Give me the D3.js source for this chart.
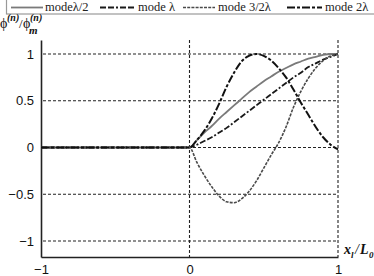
<!DOCTYPE html>
<html>
<head>
<meta charset="utf-8">
<script src="https://cdn.jsdelivr.net/npm/d3@7"></script>
<style>
  body { margin: 0; background: #fff; }
  svg { display: block; }
</style>
</head>
<body>
<svg id="chart" width="374" height="276"></svg>
<script>
const xs = [-1, 0, 0.05, 0.1, 0.15, 0.2, 0.25, 0.3, 0.35, 0.4, 0.45, 0.5, 0.55, 0.6, 0.65, 0.7, 0.75, 0.8, 0.85, 0.9, 0.95, 1];
const modeHalf = [0, 0, 0.08, 0.16, 0.23, 0.31, 0.38, 0.45, 0.52, 0.59, 0.65, 0.71, 0.76, 0.81, 0.85, 0.89, 0.92, 0.95, 0.97, 0.99, 1.0, 1.0];
const modeOne = [0, 0, 0.03, 0.07, 0.11, 0.16, 0.21, 0.27, 0.33, 0.39, 0.45, 0.51, 0.57, 0.63, 0.69, 0.75, 0.8, 0.86, 0.9, 0.94, 0.97, 1.0];
const modeThreeHalf = [0, 0, -0.16, -0.3, -0.42, -0.52, -0.58, -0.59, -0.55, -0.47, -0.36, -0.22, -0.08, 0.05, 0.22, 0.43, 0.6, 0.74, 0.85, 0.93, 0.98, 1.0];
const modeTwo = [0, 0, 0.08, 0.18, 0.31, 0.47, 0.65, 0.8, 0.92, 0.98, 1.0, 0.98, 0.93, 0.85, 0.75, 0.62, 0.48, 0.35, 0.22, 0.11, 0.03, -0.02];
const legendLabels = ["modeλ/2", "mode λ", "mode 3/2λ", "mode 2λ"];
const yTicks = [1, 0.5, 0, -0.5, -1];
const xTicks = [-1, 0, 1];
const xGrid = [0, 1];

const svg = d3.select("#chart");

const x = d3.scaleLinear().domain([-1, 1]).range([41, 338]);
const y = d3.scaleLinear().domain([-1.171, 1.15]).range([257, 40]);

// styles per series
const series = [
  { label: legendLabels[0], values: modeHalf, color: "#7a7a7a", width: 1.8, dash: null },
  { label: legendLabels[1], values: modeOne, color: "#1a1a1a", width: 1.8, dash: "6,2,6,2,2,2" },
  { label: legendLabels[2], values: modeThreeHalf, color: "#4a4a4a", width: 1.6, dash: "3,1.2" },
  { label: legendLabels[3], values: modeTwo, color: "#111", width: 2, dash: "8,2,3,2" }
];

// grid
svg.append("g").selectAll("line")
  .data(yTicks)
  .join("line")
  .attr("x1", x(-1) + 2).attr("x2", x(1))
  .attr("y1", d => y(d)).attr("y2", d => y(d))
  .attr("stroke", "#222").attr("stroke-width", 1.1)
  .attr("stroke-dasharray", "3,2");

svg.append("g").selectAll("line")
  .data(xGrid)
  .join("line")
  .attr("x1", d => x(d)).attr("x2", d => x(d))
  .attr("y1", y.range()[1]).attr("y2", y.range()[0])
  .attr("stroke", "#222").attr("stroke-width", 1.1)
  .attr("stroke-dasharray", "3,2");

// axes
const yAxis = svg.append("g")
  .attr("transform", `translate(${x(-1)},0)`)
  .call(d3.axisLeft(y).tickValues(yTicks).tickSize(0).tickPadding(7).tickFormat(d3.format("")));
const xAxis = svg.append("g")
  .attr("transform", `translate(0,${y.range()[0]})`)
  .call(d3.axisBottom(x).tickValues(xTicks).tickSize(0).tickPadding(8).tickFormat(d3.format("")));

[yAxis, xAxis].forEach(g => {
  g.select(".domain").attr("stroke", "#222").attr("stroke-width", 1.6);
  g.selectAll("text")
    .attr("font-family", "Liberation Sans, Arial, sans-serif")
    .attr("font-size", 13)
    .attr("fill", "#111");
});

// curves
const line = d3.line()
  .x((d, i) => x(xs[i]))
  .y(d => y(d))
  .curve(d3.curveMonotoneX);

svg.append("g").selectAll("path")
  .data(series)
  .join("path")
  .attr("d", d => line(d.values))
  .attr("fill", "none")
  .attr("stroke", d => d.color)
  .attr("stroke-width", d => d.width)
  .attr("stroke-dasharray", d => d.dash);

// legend
const legend = svg.append("g");
legend.append("rect")
  .attr("x", 6.5).attr("y", -10)
  .attr("width", 380).attr("height", 24)
  .attr("fill", "none").attr("stroke", "#999").attr("stroke-width", 1.2);

const legendPos = [
  { x1: 11, x2: 43, tx: 45 },
  { x1: 100, x2: 135, tx: 138 },
  { x1: 183, x2: 215, tx: 218 },
  { x1: 287, x2: 322, tx: 325 }
];
series.forEach((s, i) => {
  const p = legendPos[i];
  legend.append("line")
    .attr("x1", p.x1).attr("x2", p.x2)
    .attr("y1", 7.5).attr("y2", 7.5)
    .attr("stroke", s.color).attr("stroke-width", s.width)
    .attr("stroke-dasharray", s.dash);
  legend.append("text")
    .attr("x", p.tx).attr("y", 11)
    .attr("font-family", "Liberation Serif, Times New Roman, serif")
    .attr("font-size", 12.5)
    .attr("fill", "#222")
    .text(s.label);
});

// y label: phi^(n) / phi_m^(n)
const yl = svg.append("g")
  .attr("font-family", "Liberation Serif, Times New Roman, serif")
  .attr("fill", "#111");
yl.append("text").attr("x", 0).attr("y", 28).attr("font-size", 14).text("ϕ");
yl.append("text").attr("x", 7).attr("y", 21).attr("font-size", 10).attr("font-style", "italic").attr("font-weight", "bold").text("(n)");
yl.append("text").attr("x", 19).attr("y", 28).attr("font-size", 13).text("/");
yl.append("text").attr("x", 23).attr("y", 28).attr("font-size", 14).text("ϕ");
yl.append("text").attr("x", 30).attr("y", 21).attr("font-size", 10).attr("font-style", "italic").attr("font-weight", "bold").text("(n)");
yl.append("text").attr("x", 29).attr("y", 34).attr("font-size", 11).attr("font-style", "italic").attr("font-weight", "bold").text("m");

// x label: x_l / L_0
const xl = svg.append("g")
  .attr("font-family", "Liberation Serif, Times New Roman, serif")
  .attr("font-style", "italic").attr("font-weight", "bold")
  .attr("fill", "#111");
xl.append("text").attr("x", 344).attr("y", 254).attr("font-size", 14).text("x");
xl.append("text").attr("x", 351).attr("y", 258).attr("font-size", 9).text("l");
xl.append("text").attr("x", 355).attr("y", 254).attr("font-size", 14).attr("font-weight", "normal").text("/");
xl.append("text").attr("x", 360).attr("y", 254).attr("font-size", 14).text("L");
xl.append("text").attr("x", 369).attr("y", 258).attr("font-size", 9).text("0");
</script>
</body>
</html>
